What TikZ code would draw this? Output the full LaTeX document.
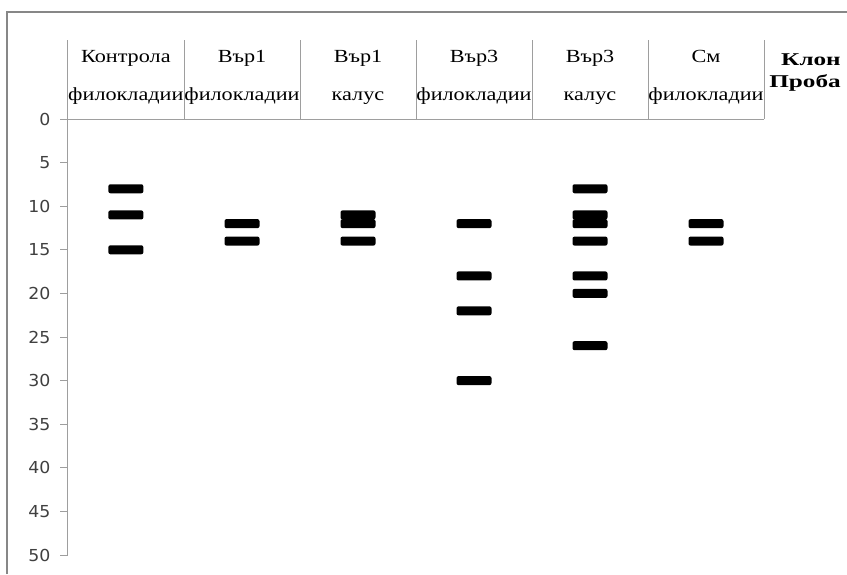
\documentclass[tikz,border=0pt]{standalone}
\usepackage{fontspec}
\setmainfont{Liberation Serif}
\newfontfamily\hdrfont[FakeStretch=1.2]{Liberation Serif}
\newfontfamily\hdrboldfont[FakeStretch=1.4]{Liberation Serif Bold}
\newfontfamily\axisfont[FakeStretch=1.05]{DejaVu Sans}
\begin{document}
\begin{tikzpicture}[x=1pt,y=-1pt,
  gridline/.style={draw=black!38, line width=1pt},
  frameline/.style={draw=black!47, line width=2pt},
  band/.style={fill=black, rounded corners=2pt, minimum width=35pt,
    minimum height=9pt, inner sep=0pt},
  hdr/.style={font=\hdrfont\fontsize{18.5}{20}\selectfont, anchor=base, inner sep=0pt},
  hdrbold/.style={font=\hdrboldfont\fontsize{18}{20}\selectfont, anchor=base, inner sep=0pt},
  ylab/.style={font=\axisfont\fontsize{16.5}{18}\selectfont, text=black!75,
    anchor=east, inner sep=0pt},
]
\useasboundingbox (0,0) rectangle (847,574);
\fill[white] (0,0) rectangle (847,574);
% outer frame
\draw[frameline] (6.5,574) -- (6.5,12) -- (847,12);

% vertical axis, header rule and column separators
\draw[gridline] (67.7,40) -- (67.7,555);
\draw[gridline] (60,119) -- (764,119);
\foreach \sx in {184,300,416,532,648,764}
  \draw[gridline] (\sx,40) -- (\sx,119);

% ticks and their labels
\foreach \v in {0,5,...,50} {
  \draw[gridline] (60,{119+\v*8.72}) -- (67.7,{119+\v*8.72});
  \node[ylab] (tick\v) at (50.5,{119+\v*8.72}) {\v};
}

% column headers
\node[hdr] (h1a) at (125.85,62) {Контрола};
\node[hdr] (h1b) at (125.85,100) {филокладии};
\node[hdr] (h2a) at (242,62) {Вър1};
\node[hdr] (h2b) at (242,100) {филокладии};
\node[hdr] (h3a) at (358,62) {Вър1};
\node[hdr] (h3b) at (358,100) {калус};
\node[hdr] (h4a) at (474,62) {Вър3};
\node[hdr] (h4b) at (474,100) {филокладии};
\node[hdr] (h5a) at (590,62) {Вър3};
\node[hdr] (h5b) at (590,100) {калус};
\node[hdr] (h6a) at (706,62) {См};
\node[hdr] (h6b) at (706,100) {филокладии};
\node[hdrbold] (klon) at (811,65) {Клон};
\node[hdrbold] (proba) at (805,87) {Проба};

% bands
\foreach \c/\cx/\vals in {1/125.85/{8,11,15}, 2/242/{12,14}, 3/358/{11,12,14},
    4/474/{12,18,22,30}, 5/590/{8,11,12,14,18,20,26}, 6/706/{12,14}} {
  \foreach \v in \vals
    \node[band] (band-\c-\v) at (\cx,{119+\v*8.72}) {};
}
\end{tikzpicture}
\end{document}
